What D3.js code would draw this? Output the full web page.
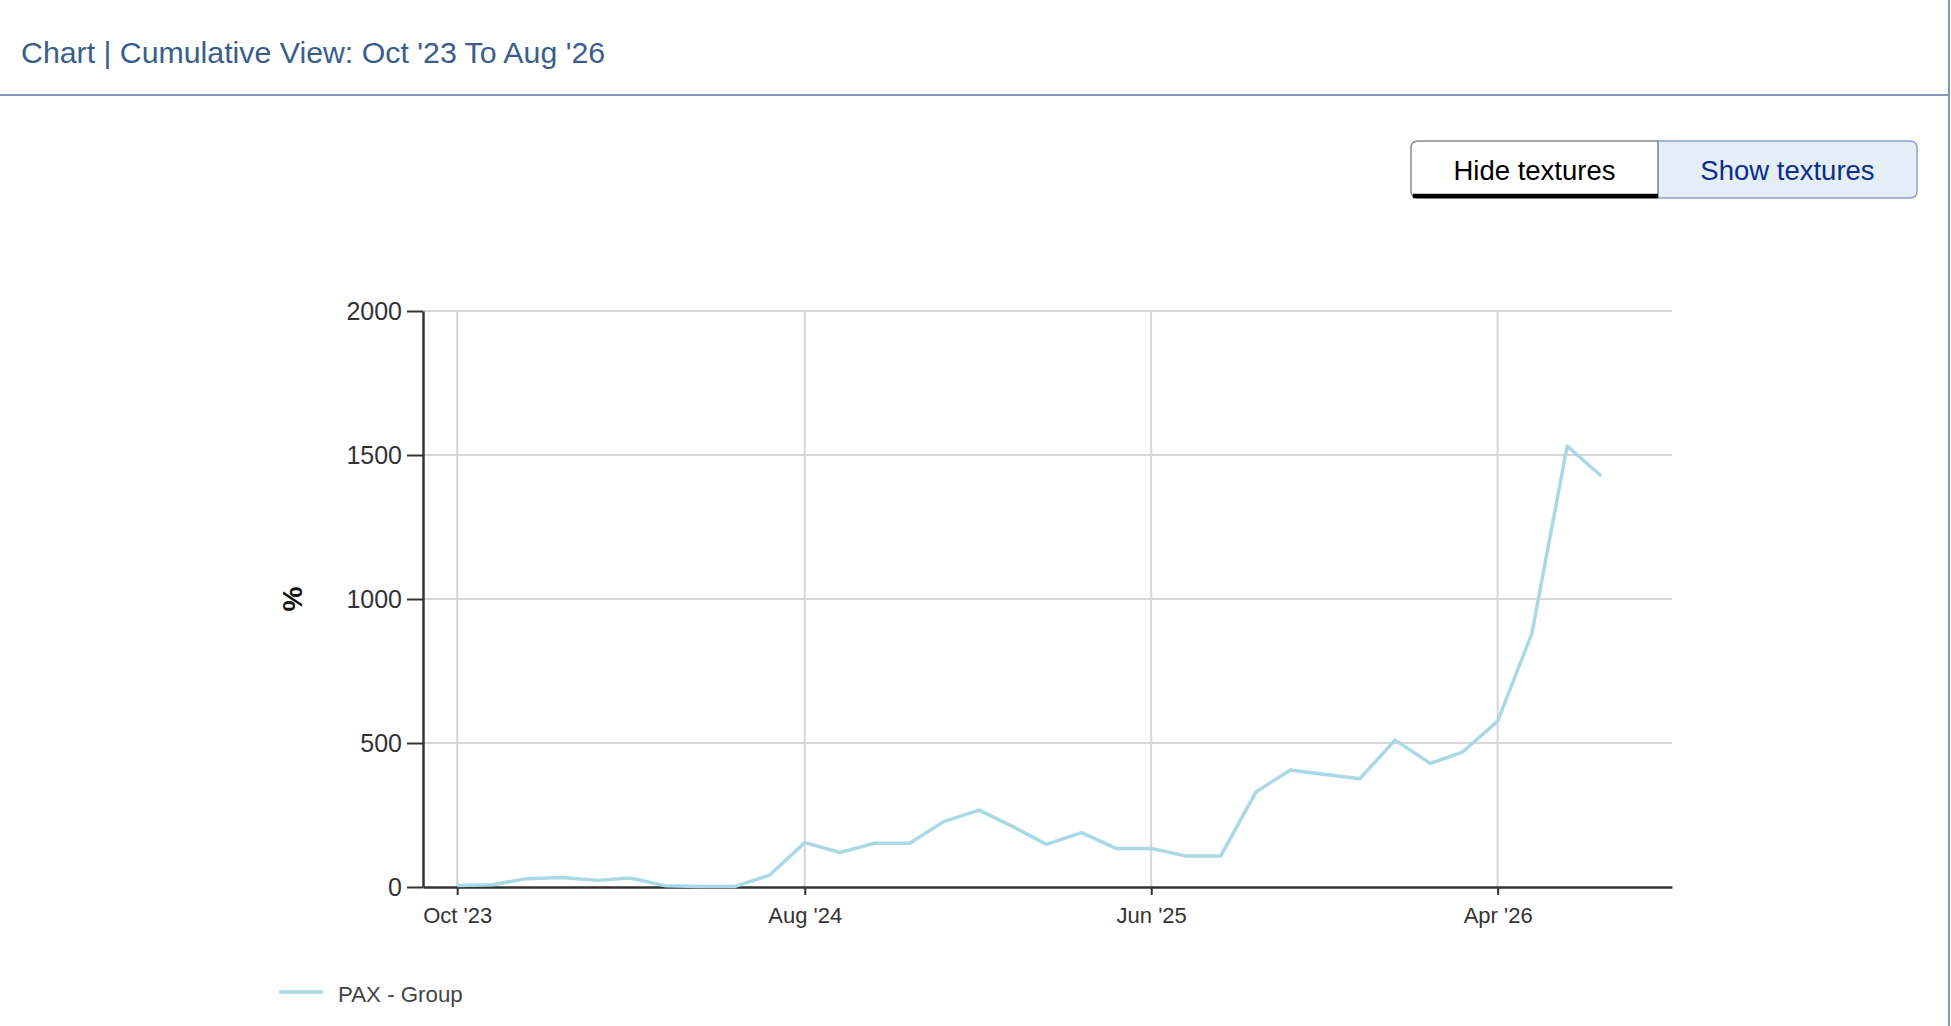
<!DOCTYPE html>
<html>
<head>
<meta charset="utf-8">
<script src="https://cdn.jsdelivr.net/npm/d3@7"></script>
<style>
  html, body { margin: 0; padding: 0; background: #fff; }
  svg { display: block; font-family: "Liberation Sans", Arial, Helvetica, sans-serif; }
</style>
</head>
<body>
<svg id="chart" width="1951" height="1026"></svg>
<script>
// ---- data ----
const months = ["2023-10","2023-11","2023-12","2024-01","2024-02","2024-03","2024-04","2024-05","2024-06","2024-07","2024-08","2024-09","2024-10","2024-11","2024-12","2025-01","2025-02","2025-03","2025-04","2025-05","2025-06","2025-07","2025-08","2025-09","2025-10","2025-11","2025-12","2026-01","2026-02","2026-03","2026-04","2026-05","2026-06","2026-07"];
const paxGroup = [5,8,29,33,23,31,4,2,2,41,154,120,152,152,227,267,207,148,189,134,134,108,108,330,406,391,376,510,429,468,576,880,1531,1427];
const xTickMonths = ["2023-10","2024-08","2025-06","2026-04"];
const yTicks = [0,500,1000,1500,2000];
const xDomainMonths = ["2023-09","2026-09"];
const seriesName = "PAX - Group";
const titleText = "Chart | Cumulative View: Oct '23 To Aug '26";
const buttonLabels = ["Hide textures","Show textures"];

(function(){
const parse = d3.timeParse("%Y-%m");
const data = months.map((m,i) => ({date: parse(m), value: paxGroup[i]}));

const svg = d3.select("#chart");

// header
svg.append("text").attr("x",21).attr("y",63)
  .attr("font-size",30.3).attr("fill","#3a5e8c").text(titleText);
svg.append("line").attr("x1",0).attr("x2",1949).attr("y1",95).attr("y2",95)
  .attr("stroke","#7f97bd").attr("stroke-width",2);
svg.append("line").attr("x1",1949).attr("x2",1949).attr("y1",0).attr("y2",1026)
  .attr("stroke","#7f97bd").attr("stroke-width",2);

// buttons
const bx0 = 1411, bmid = 1658, bx1 = 1917, by0 = 141, by1 = 198, r = 7;
svg.append("path")
  .attr("d",`M${bmid},${by0} H${bx1-r} Q${bx1},${by0} ${bx1},${by0+r} V${by1-r} Q${bx1},${by1} ${bx1-r},${by1} H${bmid} Z`)
  .attr("fill","#e5edf7").attr("stroke","#8da2c8").attr("stroke-width",1.5);
svg.append("path")
  .attr("d",`M${bmid},${by0} H${bx0+r} Q${bx0},${by0} ${bx0},${by0+r} V${by1-r} Q${bx0},${by1} ${bx0+r},${by1} H${bmid} Z`)
  .attr("fill","#fff").attr("stroke","#8a8a8a").attr("stroke-width",1.5);
svg.append("line").attr("x1",bx0+2).attr("x2",bmid).attr("y1",by1-2).attr("y2",by1-2)
  .attr("stroke","#000").attr("stroke-width",4.5);
svg.append("text").attr("x",(bx0+bmid)/2).attr("y",180).attr("text-anchor","middle")
  .attr("font-size",27.5).attr("fill","#000").text(buttonLabels[0]);
svg.append("text").attr("x",(bmid+bx1)/2).attr("y",180).attr("text-anchor","middle")
  .attr("font-size",27.5).attr("fill","#0a2f8c").text(buttonLabels[1]);

// scales
const pl = 423, pr = 1672, pt = 311, pb = 887;
const x = d3.scaleTime().domain(xDomainMonths.map(parse)).range([pl,pr]);
const y = d3.scaleLinear().domain([0,2000]).range([pb,pt]);

// grid
svg.append("g").selectAll("line").data(yTicks.filter(d=>d>0)).join("line")
  .attr("x1",pl).attr("x2",pr).attr("y1",d=>y(d)).attr("y2",d=>y(d))
  .attr("stroke","#d6d6d6").attr("stroke-width",2);
svg.append("g").selectAll("line").data(xTickMonths.map(parse)).join("line")
  .attr("x1",d=>x(d)).attr("x2",d=>x(d)).attr("y1",pt).attr("y2",pb)
  .attr("stroke","#d6d6d6").attr("stroke-width",2);

// axes
const yAxis = svg.append("g").attr("transform",`translate(${pl},0)`)
  .call(d3.axisLeft(y).tickValues(yTicks).tickSize(16).tickSizeOuter(0).tickPadding(5).tickFormat(d3.format("d")));
yAxis.selectAll("text").attr("font-size",25).attr("fill","#333").style("font-family","inherit");
yAxis.selectAll("line").attr("stroke","#333").attr("stroke-width",2);
yAxis.select(".domain").attr("stroke","#333").attr("stroke-width",2.5);

const xAxis = svg.append("g").attr("transform",`translate(0,${pb})`)
  .call(d3.axisBottom(x).tickValues(xTickMonths.map(parse)).tickSize(8).tickSizeOuter(0).tickPadding(12).tickFormat(d3.timeFormat("%b '%y")));
xAxis.selectAll("text").attr("font-size",22).attr("fill","#333").style("font-family","inherit");
xAxis.selectAll("line").attr("stroke","#333").attr("stroke-width",2);
xAxis.select(".domain").attr("stroke","#333").attr("stroke-width",2.5);

// y label
svg.append("text").attr("transform",`translate(292,${(pt+pb)/2}) rotate(-90)`)
  .attr("text-anchor","middle").attr("dominant-baseline","central")
  .attr("font-size",28).attr("font-weight","bold").attr("fill","#111").text("%");

// line
svg.append("path").datum(data)
  .attr("d", d3.line().x(d=>x(d.date)).y(d=>y(d.value)))
  .attr("fill","none").attr("stroke","#a9d8e6").attr("stroke-width",3.5)
  .attr("stroke-linejoin","round");

// legend
svg.append("line").attr("x1",279).attr("x2",323).attr("y1",992).attr("y2",992)
  .attr("stroke","#a9d8e6").attr("stroke-width",3.5);
svg.append("text").attr("x",338).attr("y",1002).attr("font-size",22.3).attr("fill","#444").text(seriesName);
})();
</script>
</body>
</html>
